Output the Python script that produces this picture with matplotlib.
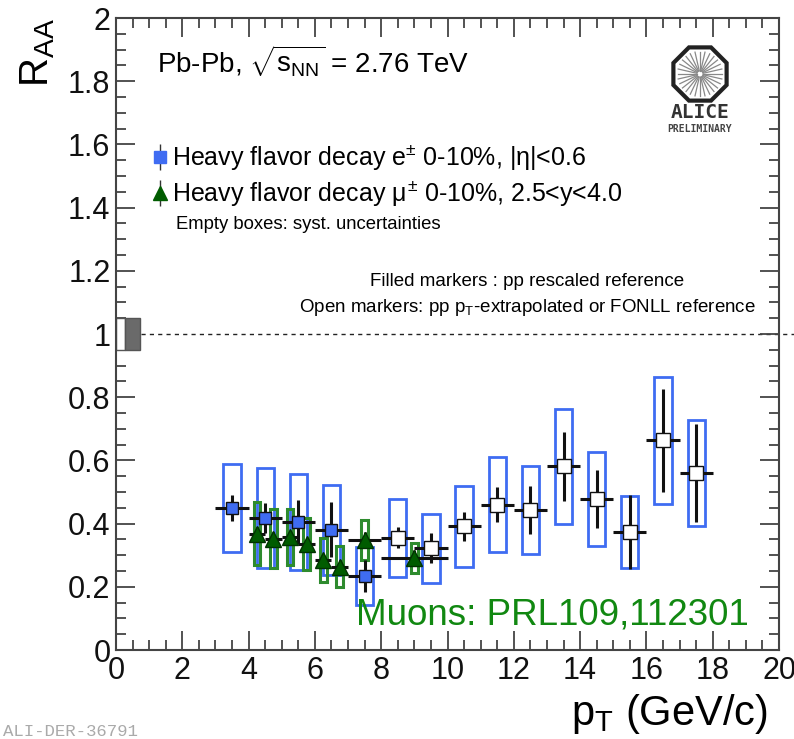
import numpy as np
import matplotlib.pyplot as plt
from matplotlib.patches import Rectangle, RegularPolygon
from matplotlib.ticker import MultipleLocator

# Heavy flavour decay electrons, 0-10%, |eta|<0.6 (filled: pp rescaled ref.)
ele_pt = [3.5, 4.5, 5.5, 6.5, 7.5]
ele_raa = [0.449, 0.418, 0.405, 0.380, 0.234]
ele_stat = [0.040, 0.047, 0.070, 0.087, 0.050]
ele_syst = [0.140, 0.157, 0.152, 0.142, 0.092]

# electrons with pT-extrapolated / FONLL reference (open markers)
ele2_pt = [8.5, 9.5, 10.5, 11.5, 12.5, 13.5, 14.5, 15.5, 16.5, 17.5]
ele2_raa = [0.355, 0.322, 0.392, 0.460, 0.443, 0.581, 0.478, 0.373, 0.663, 0.560]
ele2_stat = [0.033, 0.048, 0.046, 0.055, 0.076, 0.108, 0.093, 0.117, 0.163, 0.155]
ele2_syst = [0.123, 0.109, 0.128, 0.150, 0.139, 0.182, 0.149, 0.114, 0.201, 0.168]

# Heavy flavour decay muons, 0-10%, 2.5<y<4.0
mu_pt = [4.25, 4.75, 5.25, 5.75, 6.25, 6.75, 7.5, 9.0]
mu_dpt = [0.25, 0.25, 0.25, 0.25, 0.25, 0.25, 0.5, 1.0]
mu_raa = [0.368, 0.352, 0.357, 0.335, 0.285, 0.264, 0.348, 0.291]
mu_stat = [0.020, 0.020, 0.020, 0.020, 0.020, 0.020, 0.025, 0.025]
mu_syst = [0.100, 0.094, 0.089, 0.083, 0.070, 0.065, 0.063, 0.048]

norm_unc = 0.05

BLUE = '#3f6cf2'
GREEN = '#2e8b2e'
DKGREEN = '#005c00'

plt.rcParams['font.family'] = ['Liberation Sans', 'DejaVu Sans']
plt.rcParams['mathtext.fontset'] = 'custom'
plt.rcParams['mathtext.rm'] = 'Liberation Sans'
plt.rcParams['mathtext.it'] = 'Liberation Sans'
plt.rcParams['mathtext.bf'] = 'Liberation Sans'

fig = plt.figure(figsize=(7.94, 7.39), dpi=100)
ax = fig.add_axes([116 / 794, 1 - 650 / 739, 663 / 794, 632 / 739])

# syst boxes
for x, y, s in zip(ele_pt + ele2_pt, ele_raa + ele2_raa, ele_syst + ele2_syst):
    ax.add_patch(Rectangle((x - 0.26, y - s), 0.52, 2 * s, fill=False, ec=BLUE, lw=2, zorder=2))
for x, y, s in zip(mu_pt, mu_raa, mu_syst):
    ax.add_patch(Rectangle((x - 0.1, y - s), 0.2, 2 * s, fill=False, ec=GREEN, lw=2.2, zorder=3))

# normalisation uncertainty at unity
ax.add_patch(Rectangle((0.0, 1 - norm_unc), 0.27, 2 * norm_unc, fc='white', ec='#555555', lw=1, zorder=2))
ax.add_patch(Rectangle((0.27, 1 - norm_unc), 0.45, 2 * norm_unc, fc='#6a6a6a', ec='#555555', lw=1, zorder=2))
ax.plot([0.75, 20.5], [1, 1], ls=(0, (3, 3)), color='#222222', lw=1, clip_on=False, zorder=1)

# stat errors
ax.errorbar(ele_pt, ele_raa, yerr=ele_stat, xerr=0.5, fmt='none', ecolor='#111111', elinewidth=2.2, capsize=0, zorder=4)
ax.errorbar(ele2_pt, ele2_raa, yerr=ele2_stat, xerr=0.5, fmt='none', ecolor='#111111', elinewidth=2.2, capsize=0, zorder=4)
ax.errorbar(mu_pt, mu_raa, yerr=mu_stat, xerr=mu_dpt, fmt='none', ecolor='#111111', elinewidth=2.2, capsize=0, zorder=4)

# markers
ax.plot(ele_pt, ele_raa, 's', ms=9, mfc=BLUE, mec='#111111', mew=1, zorder=5, ls='none')
ax.plot(ele2_pt, ele2_raa, 's', ms=9.5, mfc='white', mec='#111111', mew=1, zorder=5, ls='none')
ax.plot(mu_pt, mu_raa, '^', ms=12, mfc=DKGREEN, mec='#003300', mew=1, zorder=6, ls='none')

ax.set_xlim(0, 20)
ax.set_ylim(0, 2)
ax.xaxis.set_major_locator(MultipleLocator(2))
ax.xaxis.set_minor_locator(MultipleLocator(0.5))
ax.yaxis.set_major_locator(MultipleLocator(0.2))
ax.yaxis.set_minor_locator(MultipleLocator(0.05))
ax.xaxis.set_major_formatter(plt.FuncFormatter(lambda v, p: f'{v:g}'))
ax.yaxis.set_major_formatter(plt.FuncFormatter(lambda v, p: f'{v:g}'))
ax.tick_params(which='both', direction='in', top=True, right=True, color='#444444', width=1.3,
               labelsize=22, labelcolor='#111111')
ax.tick_params(which='major', length=14)
ax.tick_params(which='minor', length=7)
ax.tick_params(axis='y', pad=4)
ax.tick_params(axis='x', pad=4)
for sp in ax.spines.values():
    sp.set_linewidth(1.5)
    sp.set_color('#444444')

ax.set_xlabel(r'p$_{\rm T}$ (GeV/c)', fontsize=30, ha='right')
ax.xaxis.set_label_coords(0.983, -0.066)
ax.set_ylabel(r'R$_{\rm AA}$', fontsize=29, loc='top', labelpad=8)

# annotation texts
ax.text(0.062, 0.932, r'Pb-Pb, $\sqrt{\rm s_{NN}}$ = 2.76 TeV', transform=ax.transAxes, fontsize=20, va='center')

ax.errorbar([0.066], [0.78], yerr=[0.02], transform=ax.transAxes, fmt='s', ms=8, mfc=BLUE, mec=BLUE,
            ecolor='#333333', elinewidth=1, capsize=0)
ax.errorbar([0.066], [0.723], yerr=[0.02], transform=ax.transAxes, fmt='^', ms=10, mfc=DKGREEN, mec=DKGREEN,
            ecolor='#333333', elinewidth=1, capsize=0)
ax.text(0.085, 0.78, r'Heavy flavor decay e$^{\pm}$ 0-10%, |$\eta$|<0.6', transform=ax.transAxes,
        fontsize=18, va='center')
ax.text(0.085, 0.723, r'Heavy flavor decay $\mu^{\pm}$ 0-10%, 2.5<y<4.0', transform=ax.transAxes,
        fontsize=18, va='center')
ax.text(0.09, 0.674, 'Empty boxes: syst. uncertainties', transform=ax.transAxes, fontsize=13.3, va='center')
ax.text(0.62, 0.583, 'Filled markers : pp rescaled reference', transform=ax.transAxes, fontsize=13.5,
        va='center', ha='center')
ax.text(0.62, 0.542, r'Open markers: pp p$_{\rm T}$-extrapolated or FONLL reference', transform=ax.transAxes,
        fontsize=13.5, va='center', ha='center')
ax.text(0.955, 0.055, 'Muons: PRL109,112301', transform=ax.transAxes, fontsize=26.5, color='#118811',
        ha='right', va='center')

# ALICE preliminary logo
lax = fig.add_axes([668 / 794, 1 - 106 / 739, 64 / 794, 64 / 739])
lax.set_xlim(-1, 1)
lax.set_ylim(-1, 1)
lax.set_aspect('equal')
lax.axis('off')
lax.add_patch(RegularPolygon((0, 0), 8, radius=0.9, orientation=np.pi / 8, fill=False, ec='#222222', lw=3))
for a in np.linspace(0, 2 * np.pi, 28, endpoint=False):
    lax.plot([0.1 * np.cos(a), 0.7 * np.cos(a)], [0.1 * np.sin(a), 0.7 * np.sin(a)], color='#888888', lw=0.9)
fig.text(700 / 794, 1 - 112 / 739, 'ALICE', ha='center', va='center', fontsize=14, fontweight='bold',
         family='DejaVu Sans Mono', color='#333333')
fig.text(700 / 794, 1 - 129 / 739, 'PRELIMINARY', ha='center', va='center', fontsize=7, fontweight='bold',
         family='DejaVu Sans Mono', color='#444444')

fig.text(3 / 794, 1 - 732 / 739, 'ALI-DER-36791', ha='left', va='center', fontsize=12.5,
         family='Liberation Mono', color='#aaaaaa')

fig.savefig('out.png', dpi=100)
